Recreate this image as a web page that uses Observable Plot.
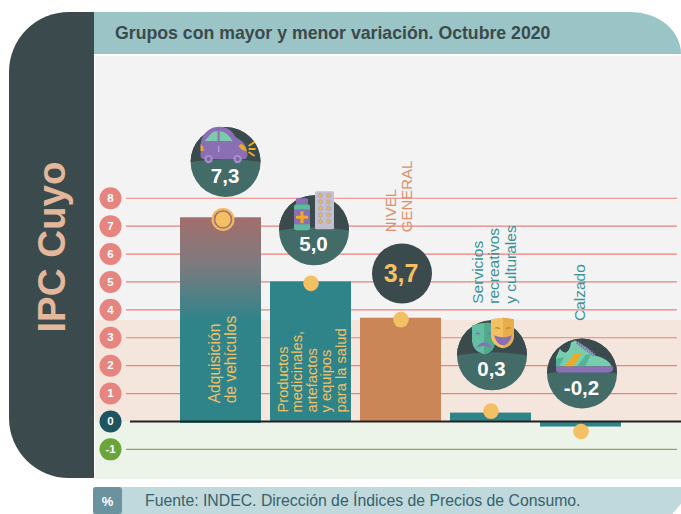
<!DOCTYPE html>
<html lang="es">
<head>
<meta charset="utf-8">
<script src="https://cdn.jsdelivr.net/npm/d3@7"></script>
<script src="https://cdn.jsdelivr.net/npm/@observablehq/plot@0.6"></script>
<style>
  html, body { margin: 0; padding: 0; background: #fff; }
  body { font-family: "Liberation Sans", Arial, sans-serif; }
  #page { position: relative; width: 681px; height: 514px; overflow: hidden; }
  #page svg.chart, #page > div { position: absolute; }
  #side { left: 9px; top: 12px; width: 85px; height: 466px; background: #3b4a4c; border-radius: 60px 0 0 60px; }
  #sideTitle { left: -48px; top: 227px; width: 200px; text-align: center; transform: rotate(-90deg);
    font: bold 38.5px "Liberation Sans", sans-serif; color: #e3b79b; line-height: 40px; white-space: nowrap; }
  #head { left: 94px; top: 12px; width: 587px; height: 42px; background: #9ac4c5; border-top-right-radius: 50px 42px; }
  #title { left: 115px; top: 23px; font: bold 17.7px "Liberation Sans", sans-serif; color: #3b4a4c; white-space: nowrap; }
  #foot { left: 93px; top: 487px; width: 588px; height: 27px; background: #c0d9dc; border-top-left-radius: 3px;
    clip-path: polygon(0 0, 100% 0, 100% 62%, 98.5% 100%, 0 100%); }
  #pct { left: 93px; top: 487px; width: 29px; height: 27px; background: #6b939f; border-radius: 3px 3px 3px 3px;
    color: #fff; font: bold 13px "Liberation Sans", sans-serif; text-align: center; line-height: 29px; }
  #source { left: 145px; top: 492px; font: 15.8px "Liberation Sans", sans-serif; color: #37616b; white-space: nowrap; }
</style>
</head>
<body>
<div id="page"></div>
<script>
const categories = ["Adquisición de vehículos", "Productos medicinales", "Nivel general", "Recreación y cultura", "Calzado"];
const values = [7.3, 5.0, 3.7, 0.3, -0.2];
const valueLabels = ["7,3", "5,0", "3,7", "0,3", "-0,2"];
const groupLabels = ["Adquisición\nde vehículos", "Productos\nmedicinales,\nartefactos\ny equipos\npara la salud", "NIVEL\nGENERAL", "Servicios\nrecreativos\ny culturales", "Calzado"];
const tickValues = [8, 7, 6, 5, 4, 3, 2, 1, 0, -1];
const gridPositive = [8, 7, 6, 5, 4, 3, 2, 1];
const gridNegative = [-1];

// layout, in axis units
const badgeAt = [9.3, 6.85, 5.3, 2.37, 1.72];
const markerAt = [7.24, 4.95, 3.65, 0.37, -0.36];
const labelAt = [0.65, 0.32, 6.78, 4.22, 3.6];
const bandTop = 3.62;

const C = { dark: "#3b4a4c", low: "#436c69", teal: "#2f848a", yellow: "#f3c064", red: "#e6847f", green: "#6aa539", copper: "#cb8658" };

function badge(inner) {
  const s = `<svg xmlns="http://www.w3.org/2000/svg" viewBox="0 0 80 80" width="80" height="80">
    <circle cx="40" cy="40" r="35" fill="${C.low}"/>
    <path d="M5 40A35 35 0 0 1 75 40Q40 34 5 40Z" fill="${C.dark}"/>${inner}</svg>`;
  return "data:image/svg+xml;charset=utf-8," + encodeURIComponent(s);
}
const carIcon = `
  <path d="M15 35V22Q16 13 23 8Q29 4 37 5Q45 6 50 15L56 19Q62 24 62 34L60 37H17Z" fill="#8a6fb5"/>
  <path d="M19 19L26 11Q29 9 32 9V19ZM34 9Q42 10 47 19H34Z" fill="#7cc9ab"/>
  <rect x="32.5" y="24" width="1.2" height="6" fill="#b9a6d8"/>
  <path d="M15 22Q18 24 18 29H15Z" fill="#eeaa22"/>
  <path d="M55 22Q60 23 61 29Q56 29 53 24Z" fill="#eeaa22"/>
  <path d="M63 24L69 20M63 27H70M63 30L69 34" stroke="#eeaa22" stroke-width="2" fill="none"/>
  <circle cx="23" cy="37" r="4.2" fill="#a58dcb"/><circle cx="23" cy="37" r="2" fill="#7a60a4"/>
  <circle cx="52" cy="37" r="4.2" fill="#a58dcb"/><circle cx="52" cy="37" r="2" fill="#7a60a4"/>`;
const pillRows = [5, 11.5, 18, 24.5, 31];
const pillIcon = `
  <rect x="22" y="8" width="12" height="6" rx="1" fill="#8a6fb5"/>
  <rect x="20" y="14" width="16" height="26" rx="2.5" fill="#5dbb9b"/>
  <rect x="20" y="19" width="16" height="15" fill="#8a6fb5"/>
  <path d="M26.5 21H29.5V25.5H34V28.5H29.5V33H26.5V28.5H22V25.5H26.5Z" fill="#eeaa22"/>
  <rect x="41" y="1" width="19" height="38" rx="1.5" fill="#c2bfd0"/>
  ${pillRows.map(y => `<circle cx="46.5" cy="${y}" r="2.1" fill="#e8b84f" stroke="#a99fc4" stroke-width=".7"/><circle cx="54.5" cy="${y}" r="2.1" fill="#e8b84f" stroke="#a99fc4" stroke-width=".7"/>`).join("")}`;
const maskIcon = `
  <path d="M20 10Q32 6 43 8V26Q43 37 32 39Q21 36 20 26Z" fill="#63bfa2"/>
  <path d="M32 7.5V39Q43 37 43 26V8Z" fill="#52a98e"/>
  <path d="M23 19Q26 15 29 19ZM35 19Q38 15 41 19Z" fill="#8a6fb5"/>
  <path d="M24 33Q32 21 40 33Q32 28 24 33Z" fill="#8a6fb5"/>
  <path d="M39 4Q51 1 62 4V21Q61 31 51 33Q40 31 39 21Z" fill="#f3c064"/>
  <path d="M51 2.5V33Q61 31 62 21V4Z" fill="#e8ad4c"/>
  <path d="M42 13Q46 10 49 14ZM53 14Q56 10 60 13Z" fill="#c98f2e"/>
  <path d="M42 20Q51 24 60 20Q57 30 51 30Q45 30 42 20Z" fill="#8a6fb5"/>`;
const shoeIcon = `
  <path d="M14 24L18 15Q20 19 24 19Q28 17 29 9L33 7L46 15L53 22Q66 25 70 33H14Z" fill="#7accae"/>
  <path d="M22 33L33 20H40L31 33Z" fill="#eeaa22"/>
  <path d="M35 33L44 21H49L43 33Z" fill="#52b395"/>
  <path d="M14 25L22 24L17 33H14Z" fill="#52b395"/>
  <path d="M35 9L53 22" stroke="#8a6fb5" stroke-width="3.4" stroke-dasharray="1.6 .9" fill="none"/>
  <path d="M14 33H71V36Q70 39 66 39H17Q14 39 14 36Z" fill="#8a6fb5"/>`;
const icons = [carIcon, pillIcon, "", maskIcon, shoeIcon];

// badges sit a little off their bar centres, as in the original
const badgeShift = [4.6, 3, 1, 1, 1];
const labelShift = [1.5, 1, -2, 3, -1];
const labelColors = [C.yellow, C.yellow, "#d9916b", "#3a9297", "#3a9297"];
const labelSizes = [15.6, 14.7, 15, 15.5, 15.5];
const labelLeading = [1.03, 0.99, 1.07, 1.09, 1];

const rows = categories.map((category, i) => ({
  category, value: values[i], label: valueLabels[i], group: groupLabels[i],
  badgeAt: badgeAt[i], markerAt: markerAt[i], labelAt: labelAt[i], icon: icons[i]
}));

const defs = () => {
  const d = d3.create("svg:defs");
  const g = d.append("linearGradient").attr("id", "barFade").attr("x1", 0).attr("x2", 0).attr("y1", 0).attr("y2", 1);
  [[0, "#a36e6c"], [0.22, "#7f7a7e"], [0.5, C.teal], [1, C.teal]].forEach(([o, c]) =>
    g.append("stop").attr("offset", o).attr("stop-color", c));
  return d.node();
};

const fontFamily = "Liberation Sans, Arial, sans-serif";
const perRow = [];
rows.forEach((r, i) => {
  const tx = { x: "category", textAnchor: "start", rotate: -90, fontFamily, lineAnchor: "middle",
    y: "labelAt", text: "group", fill: labelColors[i], fontSize: labelSizes[i], lineHeight: labelLeading[i], dx: labelShift[i] };
  perRow.push(Plot.text([r], tx));
});
const badges = [];
rows.forEach((r, i) => {
  if (r.icon !== "") {
    badges.push(Plot.image([r], { x: "category", y: "badgeAt", src: d => badge(d.icon), width: 80, height: 80, dx: badgeShift[i] }));
    badges.push(Plot.text([r], { x: "category", y: "badgeAt", text: "label", dx: badgeShift[i] - 0.5, dy: 14.5, fill: "#fff", fontSize: 20.5, fontWeight: "bold", fontFamily }));
  } else {
    badges.push(Plot.dot([r], { x: "category", y: "badgeAt", r: 30, fill: C.dark, dx: badgeShift[i] }));
    badges.push(Plot.text([r], { x: "category", y: "badgeAt", text: "label", dx: badgeShift[i] - 1, fill: C.yellow, fontSize: 25, fontWeight: "bold", fontFamily }));
  }
});

const chart = Plot.plot({
  width: 681, height: 514,
  marginLeft: 95, marginRight: 0, marginTop: 56, marginBottom: 35,
  style: { background: "transparent", overflow: "visible" },
  className: "chart",
  x: { domain: categories, range: [179, 623], paddingInner: 0.1, paddingOuter: 0, axis: null },
  y: { domain: [-2.08, 13.08], axis: null },
  marks: [
    defs,
    Plot.rectY([0], { y1: bandTop, y2: 13.08, fill: "#f3f3f3" }),
    Plot.rectY([0], { y1: -0.03, y2: bandTop, fill: "#f4e6dc" }),
    Plot.rectY([0], { y1: -2.08, y2: -0.03, fill: "#ecf3e8" }),
    Plot.ruleY(gridPositive, { stroke: "#e9827e", strokeWidth: 1.2, insetLeft: 31, insetRight: 4 }),
    Plot.ruleY(gridNegative, { stroke: "#7fae5f", strokeWidth: 1.2, insetLeft: 31, insetRight: 4 }),
    Plot.barY(rows.slice(0, 1), { x: "category", y1: -0.07, y2: "value", fill: "url(#barFade)" }),
    Plot.barY(rows.slice(1, 2), { x: "category", y1: 0, y2: "value", fill: C.teal }),
    Plot.barY(rows.slice(2, 3), { x: "category", y1: 0, y2: "value", fill: C.copper }),
    Plot.barY(rows.slice(3), { x: "category", y1: 0, y2: "value", fill: C.teal }),
    Plot.ruleY([0], { stroke: "#222", strokeWidth: 2, insetLeft: 35 }),
    ...perRow,
    ...badges,
    Plot.dot(rows.slice(0, 1), { x: "category", y: "markerAt", r: 11.5, fill: "#f0b95e", dx: 2 }),
    Plot.dot(rows.slice(0, 1), { x: "category", y: "markerAt", r: 8.5, fill: C.yellow, stroke: "#a5707a", strokeWidth: 1.6, dx: 2 }),
    Plot.dot(rows.slice(1), { x: "category", y: "markerAt", r: 7.8, fill: C.yellow }),
    Plot.dot(tickValues, { y: d => d, frameAnchor: "left", dx: 15, r: 11, fill: d => d > 0 ? C.red : d === 0 ? "#1f5560" : C.green }),
    Plot.text(tickValues, { y: d => d, frameAnchor: "left", dx: 15, textAnchor: "middle", text: d => `${d}`, fill: "#fff", fontSize: 11.5, fontWeight: "bold", fontFamily })
  ],
  color: { type: "identity" }
});

const page = document.getElementById("page");
page.append(chart);
chart.style.position = "absolute"; chart.style.left = 0; chart.style.top = 0;
[["side", ""], ["sideTitle", "IPC Cuyo"], ["head", ""], ["title", "Grupos con mayor y menor variación. Octubre 2020"],
 ["foot", ""], ["pct", "%"], ["source", "Fuente: INDEC. Dirección de Índices de Precios de Consumo."]].forEach(([id, text]) => {
  const el = document.createElement("div");
  el.id = id; el.textContent = text; page.append(el);
});
</script>
</body>
</html>
